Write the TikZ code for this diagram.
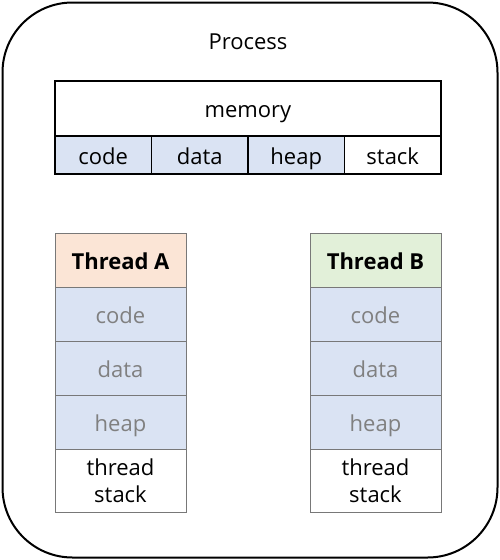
\documentclass[tikz,border=0pt]{standalone}
\usepackage{fontspec}
\setmainfont{Open Sans}
\usepackage{tikz}
\usetikzlibrary{positioning}

\definecolor{segblue}{RGB}{218,227,243}
\definecolor{throrange}{RGB}{251,229,214}
\definecolor{thrgreen}{RGB}{226,240,217}
\definecolor{dimtext}{RGB}{128,128,128}
\definecolor{thrline}{RGB}{120,120,120}

\tikzset{
  txt/.style={font=\fontsize{22}{27}\selectfont},
  even/.style={text height=18pt,text depth=0pt},
  memcell/.style={txt,even,draw,line width=1.2pt,outer sep=0pt,minimum width=96.5pt,minimum height=38pt,inner sep=0pt},
  thrcell/.style={txt,draw=thrline,line width=0.8pt,outer sep=0pt,minimum width=131pt,minimum height=54pt,inner sep=0pt,align=center},
  shared/.style={even,fill=segblue,text=dimtext}
}

\begin{document}
\begin{tikzpicture}[x=1pt,y=-1pt,node distance=0pt]
  \useasboundingbox (0,0) rectangle (500,560);
  % process frame
  \node[draw,line width=2pt,rounded corners=70pt,minimum width=495pt,minimum height=555pt] (proc) at (250,280) {};
  \node[txt] (ptitle) at (248,42) {Process};

  % memory of the process
  \node[memcell,minimum width=386pt,minimum height=55pt,anchor=north west] (mem) at (55,81) {memory};
  \node[memcell,shared,text=black,below right=0pt and 0pt of mem.south west] (mcode) {code};
  \node[memcell,shared,text=black,right=of mcode] (mdata) {data};
  \node[memcell,shared,text=black,right=of mdata] (mheap) {heap};
  \node[memcell,right=of mheap] (mstack) {stack};
  \draw[line width=2pt] (mem.north west) rectangle (mstack.south east);

  % threads
  \foreach \t/\x/\c in {A/55/throrange,B/310/thrgreen}{
    \node[thrcell,even,fill=\c,font=\fontsize{22}{27}\selectfont\bfseries,anchor=north west] (th\t) at (\x,233) {Thread \t};
    \node[thrcell,shared,below=of th\t] (code\t) {code};
    \node[thrcell,shared,below=of code\t] (data\t) {data};
    \node[thrcell,shared,below=of data\t] (heap\t) {heap};
    \node[thrcell,minimum height=63pt,below=of heap\t] (stack\t) {thread\\stack};
  }
\end{tikzpicture}
\end{document}
